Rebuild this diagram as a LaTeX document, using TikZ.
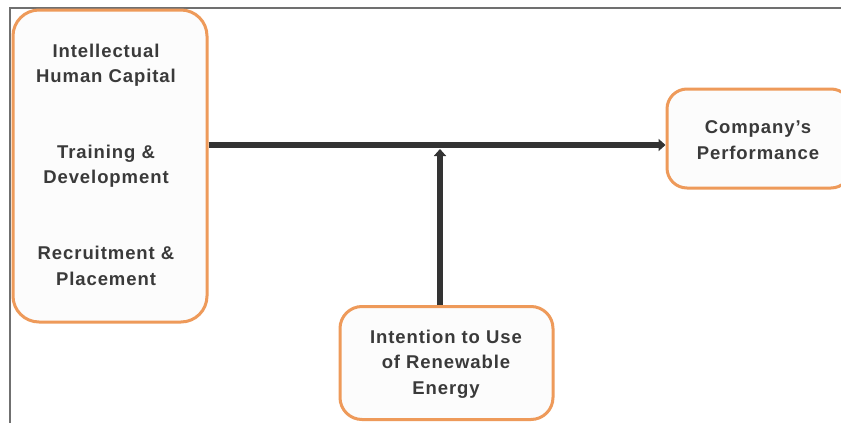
\documentclass[tikz,border=0pt]{standalone}
\usepackage{fontspec}
\setmainfont{Liberation Sans}
\usetikzlibrary{arrows.meta}
\definecolor{boxorange}{HTML}{EE9A5A}
\definecolor{boxfill}{HTML}{FCFCFC}
\definecolor{txt}{HTML}{3A3A3A}
\definecolor{arr}{HTML}{333333}
\definecolor{frame}{HTML}{707070}
\tikzset{
  obox/.style={draw=boxorange, line width=3pt, fill=boxfill, rounded corners=26pt, inner sep=0pt},
  lbl/.style={text=txt, font=\fontsize{18.5}{25.5}\selectfont\bfseries\addfontfeature{LetterSpace=5}, align=center, inner sep=0pt},
  conn/.style={draw=arr, line width=6pt, -{Triangle[width=12pt,length=7pt]}}
}
\begin{document}
\begin{tikzpicture}[x=1pt,y=-1pt]
\useasboundingbox (0,0) rectangle (841,423);
\fill[white] (0,0) rectangle (841,423);
\begin{scope}
\clip (0,0) rectangle (841,423);
% frame
\draw[frame, line width=1.5pt] (10,423) coordinate (fl) -- (10,8) coordinate (ftl) -- (841,8) coordinate (ftr);
% boxes
\node[obox, minimum width=194pt, minimum height=312pt] (L) at (110,166) {};
\node[obox, minimum width=184pt, minimum height=99pt, rounded corners=20pt] (R) at (759,138.5) {};
\node[obox, minimum width=213pt, minimum height=113pt, rounded corners=22pt] (B) at (446.5,363) {};
\end{scope}
% texts
\node[lbl] (t1) at (106,65) {Intellectual\\Human Capital};
\node[lbl] (t2) at (106,166) {Training \&\\Development};
\node[lbl] (t3) at (106,266) {Recruitment \&\\Placement};
\node[lbl] (t4) at (758,140) {Company’s\\Performance};
\node[lbl] (t5) at (446,364) {Intention to Use\\of Renewable\\Energy};
% connectors
\coordinate (J) at (440,149);
\draw[conn] (L.east |- 0,145) -- (R.west |- 0,145);
\draw[conn] (B.north -| J) -- (J);
\end{tikzpicture}
\end{document}
